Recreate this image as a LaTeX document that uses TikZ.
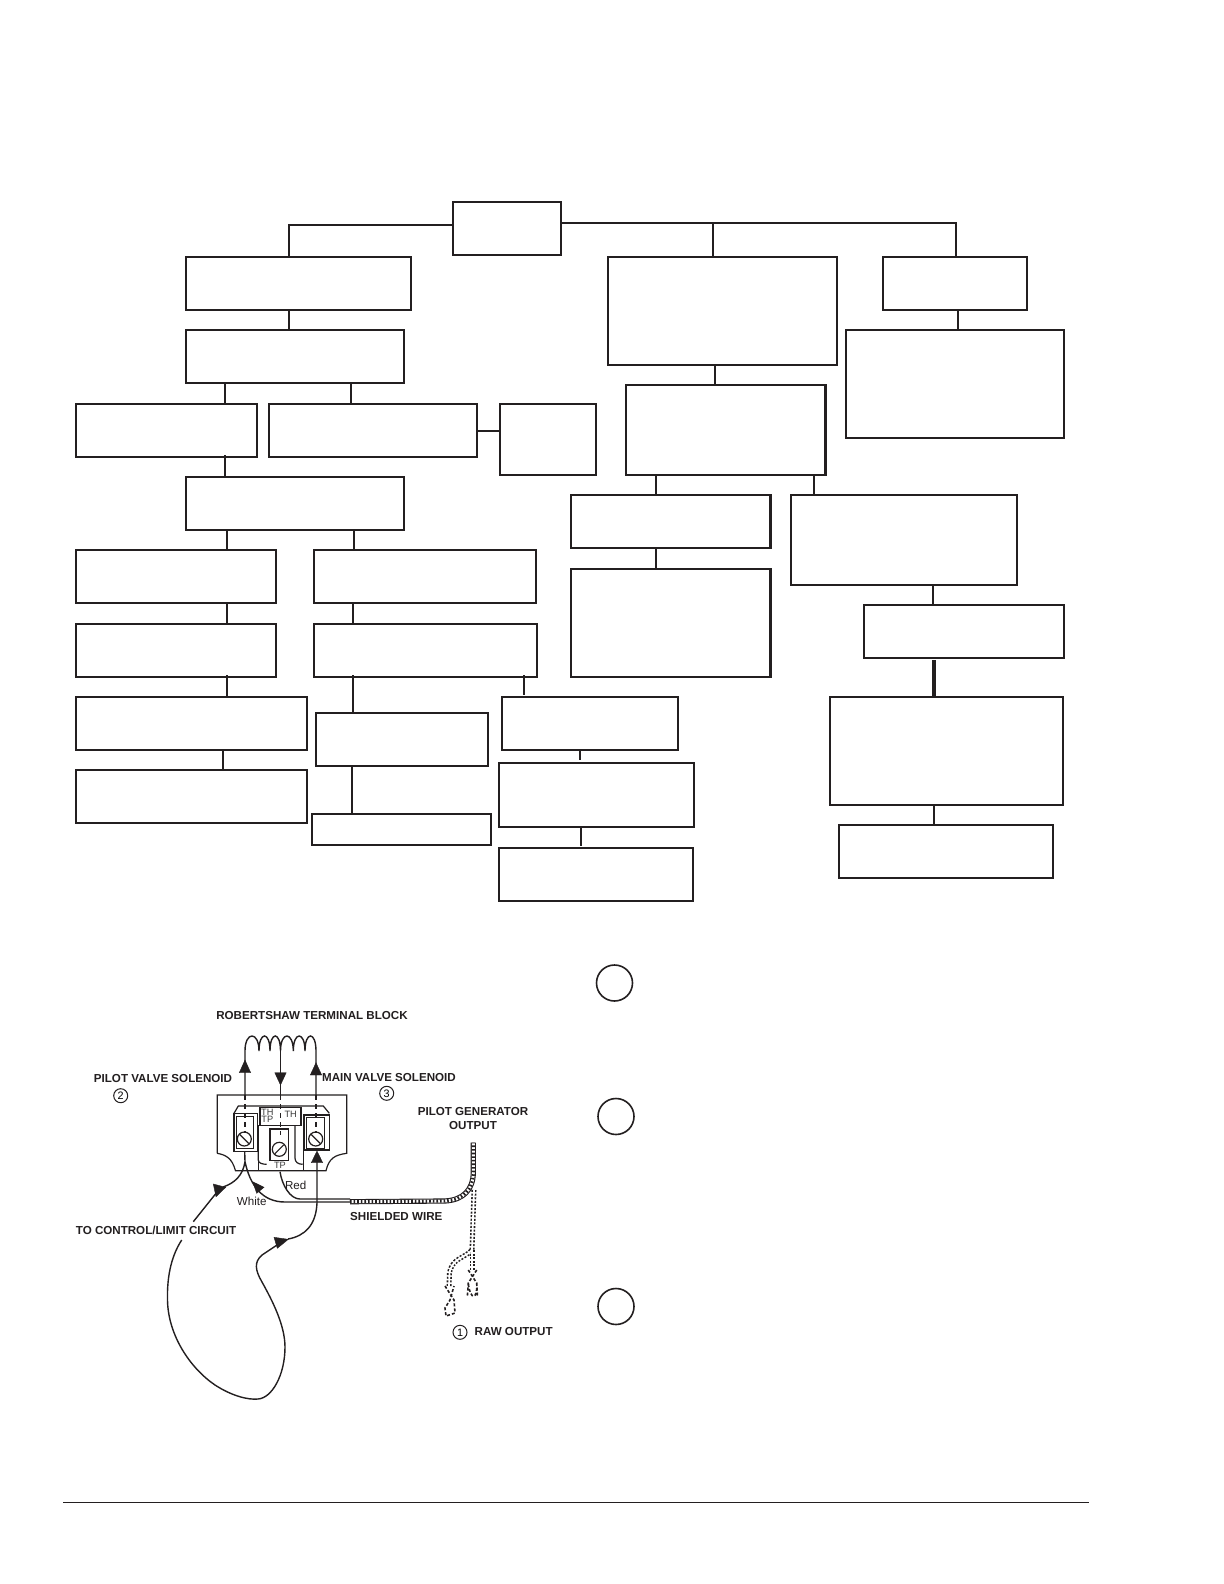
\documentclass[tikz,border=0pt]{standalone}
\usepackage{fontspec}
\setmainfont{Liberation Sans}
\definecolor{ink}{HTML}{231F20}
\definecolor{grayink}{HTML}{3A3A3A}
\tikzset{
  flowbox/.style={draw=ink,line width=1pt,fill=white,inner sep=0pt,outer sep=0pt},
  link/.style={draw=ink,line width=1pt},
  linkthick/.style={draw=ink,line width=2pt},
  refcircle/.style={circle,draw=ink,line width=.8pt,inner sep=0pt,outer sep=0pt,minimum size=18pt},
  numcircle/.style={circle,draw=ink,line width=.5pt,inner sep=0pt,outer sep=0pt,minimum size=7pt,font=\fontsize{5.4pt}{5.4pt}\selectfont},
  lbl/.style={inner sep=0pt,text=ink,font=\fontsize{5.8pt}{6.6pt}\bfseries\selectfont,align=center},
  lblplain/.style={inner sep=0pt,text=ink,font=\fontsize{5.8pt}{6pt}\selectfont},
  lblsmall/.style={inner sep=0pt,text=grayink,font=\fontsize{4.6pt}{5pt}\selectfont},
  wire/.style={draw=ink,line width=.7pt},
  wiredash/.style={draw=ink,line width=.7pt,dash pattern=on 2.5pt off 2pt},
  termdash/.style={draw=ink,line width=.8pt,dash pattern=on 1.5pt off 1pt},
  head/.style={fill=ink,draw=ink,line width=.2pt},
  part/.style={draw=ink,line width=.6pt},
  partb/.style={draw=ink,line width=.7pt,fill=white},
  plate/.style={draw=ink,line width=.6pt},
}
\newcommand\flownode[5]{\node[flowbox,minimum width={(#4-#2)*0.5pt},minimum height={(#5-#3)*0.5pt}] (#1) at ({(#2+#4)/2},{(#3+#5)/2}) {};}
\newcommand\screw[4]{\draw[part,fill=white] (#1,#2) circle (3.5pt); \draw[part] ({#1-#3},{#2-#4}) -- ({#1+#3},{#2+#4});}
\begin{document}
\begin{tikzpicture}[x=0.5pt,y=-0.5pt]
\useasboundingbox (0,0) rectangle (1224,1584);
\fill[white] (0,0) rectangle (1224,1584);
\flownode{root}{453}{202}{561}{255}
\flownode{a}{186}{257}{411}{310}
\flownode{b}{186}{330}{404}{383}
\flownode{c}{76}{404}{257}{457}
\flownode{d}{269}{404}{477}{457}
\flownode{e}{500}{404}{596}{475}
\flownode{f}{186}{477}{404}{530}
\flownode{g}{76}{550}{276}{603}
\flownode{h}{314}{550}{536}{603}
\flownode{i}{76}{624}{276}{677}
\flownode{j}{314}{624}{537}{677}
\flownode{k}{76}{697}{307}{750}
\flownode{l}{76}{770}{307}{823}
\flownode{m}{316}{713}{488}{766}
\flownode{n}{312}{814}{491}{845}
\flownode{o}{502}{697}{678}{750}
\flownode{p}{499}{763}{694}{827}
\flownode{q}{499}{848}{693}{901}
\flownode{r}{608}{257}{837}{365}
\flownode{s}{626}{385}{826}{475}
\flownode{t}{571}{495}{771}{548}
\flownode{u}{571}{569}{771}{677}
\flownode{v}{791}{495}{1017}{585}
\flownode{w}{864}{605}{1064}{658}
\flownode{x}{830}{697}{1063}{805}
\flownode{y}{839}{825}{1053}{878}
\flownode{z}{883}{257}{1027}{310}
\flownode{aa}{846}{330}{1064}{438}
\draw[link] (root.west |- 0,225) -- (289,225) -- (a.north -| 289,0);
\draw[link] (root.east |- 0,223) -- (956,223) -- (z.north -| 956,0);
\draw[link] (713,223) -- (r.north -| 713,0);
\draw[link] (a.south -| 289,0) -- (b.north -| 289,0);
\draw[link] (b.south -| 225,0) -- (c.north -| 225,0);
\draw[link] (b.south -| 351,0) -- (d.north -| 351,0);
\draw[link] (d.east |- 0,431) -- (e.west |- 0,431);
\draw[link] (225,455) -- (f.north -| 225,0);
\draw[link] (f.south -| 227,0) -- (g.north -| 227,0);
\draw[link] (f.south -| 354,0) -- (h.north -| 354,0);
\draw[link] (g.south -| 227,0) -- (i.north -| 227,0);
\draw[link] (h.south -| 353,0) -- (j.north -| 353,0);
\draw[link] (227,675) -- (k.north -| 227,0);
\draw[link] (k.south -| 223,0) -- (l.north -| 223,0);
\draw[link] (353,675) -- (m.north -| 353,0);
\draw[link] (m.south -| 352,0) -- (n.north -| 352,0);
\draw[link] (524,675) -- (524,695);
\draw[link] (o.south -| 580,0) -- (580,760);
\draw[link] (p.south -| 581,0) -- (581,846);
\draw[link] (r.south -| 715,0) -- (s.north -| 715,0);
\draw[link] (s.south -| 656,0) -- (t.north -| 656,0);
\draw[link] (s.south -| 814,0) -- (v.north -| 814,0);
\draw[link] (t.south -| 656,0) -- (u.north -| 656,0);
\draw[link] (z.south -| 958,0) -- (aa.north -| 958,0);
\draw[link] (v.south -| 933,0) -- (w.north -| 933,0);
\draw[linkthick] (933.5,660) -- (x.north -| 933.5,0);
\draw[link] (x.south -| 934,0) -- (y.north -| 934,0);
\draw[draw=ink,line width=1.5pt] (825.5,385) -- (825.5,475);
\draw[draw=ink,line width=1.5pt] (770.5,495) -- (770.5,548);
\draw[draw=ink,line width=1.5pt] (770.5,569) -- (770.5,677);
\node[refcircle] (c1) at (614.5,983) {};
\node[refcircle] (c2) at (616,1116.5) {};
\node[refcircle] (c3) at (616,1306.5) {};
\draw[draw=ink,line width=.5pt] (63,1502) -- (1089,1502);
% ---- sketch ----
\draw[plate] (217.3,1153.3) -- (217.3,1095) -- (346.7,1095) -- (346.7,1153.3)
  .. controls (335,1155) and (329,1158) .. (326,1170.7) -- (235.5,1170.7)
  .. controls (232,1158) and (226,1155) .. (217.3,1153.3);
\draw[part] (234,1113.3) -- (238.3,1106) -- (323.3,1106) -- (329.3,1113.3);
\draw[partb] (234,1113.3) rectangle (257.3,1151.7);
\draw[partb] (236.5,1116.5) rectangle (253.3,1148.3);
\draw[partb] (304,1115) rectangle (329.3,1150);
\draw[partb] (306.7,1117.3) rectangle (324.3,1148.3);
\draw[part] (258.3,1125) -- (258.3,1160) .. controls (258.3,1163) and (262,1164.3) .. (266.7,1164.3);
\draw[part] (295,1125) -- (295,1158) .. controls (295,1162) and (298,1164.3) .. (302.7,1164.3);
\draw[part] (258.3,1151.7) -- (258.3,1170.7);
\draw[part] (303.3,1150) -- (303.3,1170.7);
\draw[partb] (270,1129) rectangle (288.7,1160.7);
\draw[partb,line width=.6pt] (260,1107.7) rectangle (301,1125.3);
\screw{244.3}{1139}{4.5}{4.5}
\screw{315.7}{1139}{4.5}{4.5}
\screw{279.3}{1149.3}{4.5}{-4.5}
\draw[wire] (245,1095) -- (245,1051) .. controls (245,1031) and (259,1031) .. (259,1051)
  .. controls (259,1031) and (270,1031) .. (270,1051)
  .. controls (270,1031) and (280.5,1031) .. (280.5,1051)
  .. controls (280.5,1031) and (293.3,1031) .. (293.3,1051)
  .. controls (293.3,1031) and (305,1031) .. (305,1051)
  .. controls (305,1031) and (316,1031) .. (316,1051) -- (316,1095);
\draw[wire] (280.5,1051) -- (280.5,1095);
\draw[wiredash] (245,1095) -- (245,1133);
\draw[wiredash] (280.5,1095) -- (280.5,1135);
\draw[wiredash] (316,1095) -- (316,1133);
\fill[head] (245,1060) -- (239.3,1072.7) -- (250.7,1072.7) -- cycle;
\fill[head] (280.5,1085) -- (274.8,1072.7) -- (286.2,1072.7) -- cycle;
\fill[head] (316,1062.7) -- (310.3,1075) -- (321.7,1075) -- cycle;
\draw[wire] (244.7,1152) -- (245,1161.7) .. controls (243,1175) and (235,1183) .. (223,1187);
\draw[wire] (245,1161.7) .. controls (250,1185) and (262,1202) .. (285,1202) -- (350,1202);
\draw[wire] (280,1171.7) .. controls (282,1185) and (290,1199) .. (300,1199) -- (350,1199);
\draw[wire] (193.3,1221.7) -- (220,1188.3);
\fill[head] (213.3,1184) -- (225.7,1187.3) -- (216,1196.7) -- cycle;
\fill[head] (252.7,1181.7) -- (264,1187.3) -- (256.7,1193.3) -- cycle;
\fill[head] (317,1151) -- (311.3,1162.7) -- (322.7,1162.7) -- cycle;
\draw[wire] (317,1162) -- (317,1203) .. controls (316,1225) and (305,1236) .. (288,1239);
\fill[head] (274,1237.3) -- (288.3,1239.3) -- (277.3,1248.3) -- cycle;
\draw[wire] (181.7,1240) .. controls (170,1258) and (167,1280) .. (167.5,1300)
  .. controls (168,1335) and (190,1368) .. (215,1385)
  .. controls (232,1396) and (248,1400) .. (258,1399)
  .. controls (272,1398) and (285,1375) .. (285,1347)
  .. controls (285,1325) and (272,1300) .. (262,1282)
  .. controls (255,1270) and (254,1262) .. (262,1255) -- (277,1245);
% shielded wire
\draw[draw=ink,line width=2.6pt] (350,1201.7) -- (445,1201) .. controls (463,1200) and (473.3,1190) .. (473.3,1172) -- (473.3,1142.7);
\draw[draw=white,line width=1.5pt] (350,1201.7) -- (445,1201) .. controls (463,1200) and (473.3,1190) .. (473.3,1172) -- (473.3,1142.7);
\draw[draw=ink,line width=1.6pt,dash pattern=on .8pt off 1pt] (350,1201.7) -- (445,1201) .. controls (463,1200) and (473.3,1190) .. (473.3,1172) -- (473.3,1142.7);
% raw output wires
\draw[draw=ink,line width=2.5pt,dash pattern=on 1pt off .8pt] (474,1190) -- (472,1250) .. controls (465,1258) and (452,1258) .. (449.5,1273) -- (449,1287);
\draw[draw=ink,line width=2.5pt,dash pattern=on 1pt off .8pt] (472,1250) -- (472,1270);
\draw[draw=white,line width=.9pt] (474,1190) -- (472,1250) .. controls (465,1258) and (452,1258) .. (449.5,1273) -- (449,1287);
\draw[draw=white,line width=.9pt] (472,1250) -- (472,1270);
% terminals
\draw[termdash] (468.3,1270) -- (476.7,1283) -- (477.5,1297) (476.7,1270) -- (468.3,1283) -- (467.3,1297) (476.7,1283) .. controls (478,1300) and (470,1301) .. (468.3,1283);
\draw[termdash] (445,1286) -- (454,1300) -- (455,1313) -- (446,1316) -- (445,1308) -- (450,1300) -- (454,1286);
% sketch labels
\node[lbl] (t1) at (312,1015) {ROBERTSHAW TERMINAL BLOCK};
\node[lbl] (t2) at (163,1078.3) {PILOT VALVE SOLENOID};
\node[numcircle] (n2) at (120.7,1095.7) {2};
\node[lbl] (t3) at (389,1077) {MAIN VALVE SOLENOID};
\node[numcircle] (n3) at (386.7,1093.3) {3};
\node[lbl] (t4) at (473,1118.5) {PILOT GENERATOR\\OUTPUT};
\node[lbl] (t5) at (156,1230) {TO CONTROL/LIMIT CIRCUIT};
\node[lbl] (t6) at (396.3,1216.7) {SHIELDED WIRE};
\node[numcircle] (n1) at (460,1332.3) {1};
\node[lbl] (t7) at (513.7,1331.7) {RAW OUTPUT};
\node[lblplain] (t8) at (295.7,1185) {Red};
\node[lblplain] (t9) at (251.7,1201.7) {White};
\node[lblsmall] (t10) at (267.3,1112) {TH};
\node[lblsmall] (t11) at (267.3,1119.7) {TP};
\node[lblsmall] (t12) at (290.7,1114) {TH};
\node[lblsmall] (t13) at (280,1165) {TP};
\end{tikzpicture}
\end{document}
